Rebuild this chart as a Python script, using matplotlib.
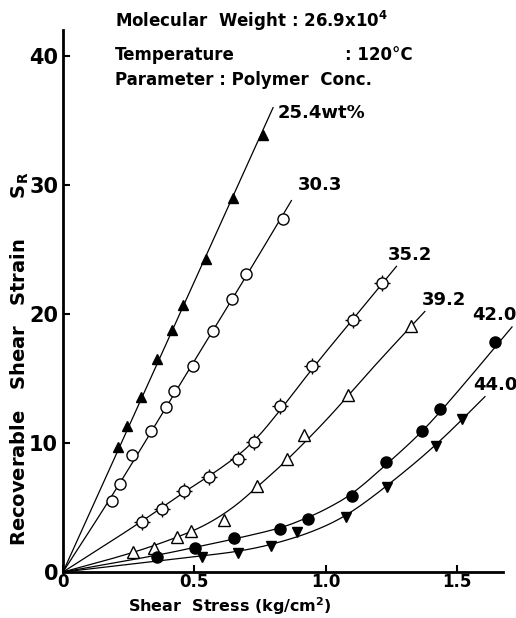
import numpy as np
import matplotlib
matplotlib.use("Agg")
import matplotlib.pyplot as plt

plt.rcParams['font.family'] = ['DejaVu Sans']
plt.rcParams['font.weight'] = 'bold'

# measured points (shear stress kg/cm2, recoverable strain)
x254 = [0.21, 0.244, 0.298, 0.359, 0.416, 0.458, 0.546, 0.649, 0.76]
y254 = [9.7, 11.3, 13.6, 16.5, 18.8, 20.7, 24.3, 29.0, 33.9]
x303 = [0.187, 0.218, 0.263, 0.336, 0.393, 0.424, 0.496, 0.573, 0.645, 0.698, 0.836]
y303 = [5.5, 6.8, 9.1, 10.9, 12.8, 14.0, 16.0, 18.7, 21.2, 23.1, 27.4]
x352 = [0.30, 0.378, 0.462, 0.557, 0.668, 0.727, 0.828, 0.95, 1.103, 1.214]
y352 = [3.9, 4.9, 6.3, 7.4, 8.8, 10.1, 12.9, 16.0, 19.5, 22.4]
x392 = [0.267, 0.347, 0.435, 0.489, 0.615, 0.737, 0.855, 0.916, 1.086, 1.324]
y392 = [1.55, 1.9, 2.7, 3.2, 4.0, 6.7, 8.8, 10.6, 13.7, 19.1]
x420 = [0.359, 0.503, 0.653, 0.828, 0.935, 1.099, 1.229, 1.366, 1.437, 1.647]
y420 = [1.2, 1.9, 2.6, 3.3, 4.1, 5.9, 8.5, 10.9, 12.65, 17.8]
x440 = [0.531, 0.668, 0.794, 0.893, 1.076, 1.233, 1.420, 1.519]
y440 = [1.2, 1.45, 2.0, 3.1, 4.3, 6.6, 9.8, 11.9]

# drawn curves
cx254 = [0, 0.8]
cy254 = [0, 36.0]
cx303 = [0, 0.2, 0.45, 0.7, 0.87]
cy303 = [0, 6.3, 14.7, 23.0, 28.8]
cx352 = [0, 0.3, 0.46, 0.6, 0.72, 0.83, 0.95, 1.1, 1.27]
cy352 = [0, 3.9, 6.2, 8.0, 9.9, 12.6, 15.8, 19.5, 23.7]
cx392 = [0, 0.27, 0.45, 0.55, 0.65, 0.74, 0.85, 1.0, 1.1, 1.2, 1.378]
cy392 = [0, 1.5, 2.8, 3.7, 5.0, 6.6, 8.6, 11.7, 14.0, 16.3, 20.2]
cx420 = [0, 0.36, 0.5, 0.65, 0.83, 0.93, 1.0, 1.1, 1.23, 1.37, 1.5, 1.71]
cy420 = [0, 1.3, 1.9, 2.55, 3.4, 4.2, 4.85, 6.0, 8.3, 10.9, 13.9, 19.0]
cx440 = [0, 0.53, 0.67, 0.8, 0.95, 1.08, 1.23, 1.42, 1.607]
cy440 = [0, 1.25, 1.6, 2.15, 3.1, 4.35, 6.6, 9.8, 13.6]

labels = ["25.4wt%", "30.3", "35.2", "39.2", "42.0", "44.0"]
label_pos = [(0.817, 35.6), (0.893, 30.0), (1.237, 24.6), (1.366, 21.1), (1.557, 19.9), (1.561, 14.5)]


def smooth(xs, ys, n=4):
    # chaikin corner cutting, keeps the end points
    p = np.column_stack([xs, ys]).astype(float)
    for _ in range(n):
        if len(p) < 3:
            break
        q = [p[0]]
        for a, b in zip(p[:-1], p[1:]):
            q.append(0.75 * a + 0.25 * b)
            q.append(0.25 * a + 0.75 * b)
        q.append(p[-1])
        p = np.array(q)
    return p[:, 0], p[:, 1]


fig = plt.figure(figsize=(5.16, 6.18), dpi=100)
ax = fig.add_axes([0.122, 0.0744, 0.853, 0.8766])

for cx, cy in [(cx254, cy254), (cx303, cy303), (cx352, cy352),
               (cx392, cy392), (cx420, cy420), (cx440, cy440)]:
    sx, sy = smooth(cx, cy)
    ax.plot(sx, sy, color="black", lw=0.9, clip_on=False)

ax.plot(x254, y254, "^", color="black", ms=7, ls="none")
ax.plot(x303, y303, "o", mfc="white", mec="black", mew=1.0, ms=8, ls="none")
ax.plot(x352, y352, "+", color="black", mew=1.0, ms=12, ls="none")
ax.plot(x352, y352, "o", mfc="white", mec="black", mew=1.0, ms=8, ls="none")
ax.plot(x392, y392, "^", mfc="white", mec="black", mew=1.0, ms=8, ls="none")
ax.plot(x420, y420, "o", color="black", ms=8, ls="none")
ax.plot(x440, y440, "v", color="black", ms=7, ls="none")

for lab, (lx, ly) in zip(labels, label_pos):
    ax.text(lx, ly, lab, fontsize=13, ha="left", va="center")

ax.set_xlim(0, 1.676)
ax.set_ylim(0, 42)
ax.set_xticks([0, 0.5, 1.0, 1.5])
ax.set_xticklabels(["0", "0.5", "1.0", "1.5"])
ax.set_yticks([0, 10, 20, 30, 40])
ax.tick_params(direction="in", length=5, width=1.5, labelsize=15)
ax.tick_params(axis="x", pad=1, labelsize=12)
for s in ["top", "right"]:
    ax.spines[s].set_visible(False)
for s in ["left", "bottom"]:
    ax.spines[s].set_linewidth(2)

fig.text(20 / 516, 0.42, "Recoverable   Shear   Strain      S$_{\\mathbf{R}}$",
         rotation=90, ha="center", va="center", fontsize=14)
fig.text(230 / 516, 1 - 606 / 618, "Shear  Stress (kg/cm$^{\\mathbf{2}}$)",
         ha="center", va="center", fontsize=11.5)

fig.text(115 / 516, 1 - 21 / 618, "Molecular  Weight : 26.9x10$^{\\mathbf{4}}$",
         ha="left", va="center", fontsize=12)
fig.text(115 / 516, 1 - 55 / 618, "Temperature", ha="left", va="center", fontsize=12)
fig.text(345 / 516, 1 - 55 / 618, ": 120\u00b0C", ha="left", va="center", fontsize=12)
fig.text(115 / 516, 1 - 80 / 618, "Parameter : Polymer  Conc.",
         ha="left", va="center", fontsize=12)

fig.savefig("out.png", dpi=100)
